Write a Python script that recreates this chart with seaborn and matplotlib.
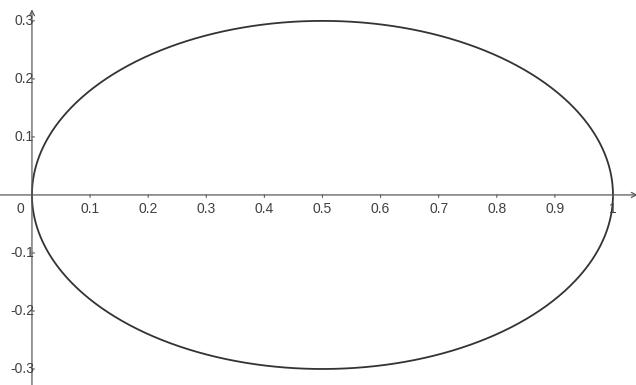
import numpy as np
import pandas as pd
import matplotlib
matplotlib.use("Agg")
import matplotlib.pyplot as plt
import seaborn as sns

# Ellipse parameters: centre and semi-axes
center_x = 0.5
center_y = 0.0
semi_axis_x = 0.5
semi_axis_y = 0.3

# Axis tick values and their labels
x_ticks = [0.1, 0.2, 0.3, 0.4, 0.5, 0.6, 0.7, 0.8, 0.9, 1.0]
x_tick_labels = ["0.1", "0.2", "0.3", "0.4", "0.5", "0.6", "0.7", "0.8", "0.9", "1"]
y_ticks = [0.3, 0.2, 0.1, -0.1, -0.2, -0.3]
y_tick_labels = ["0.3", "0.2", "0.1", "-0.1", "-0.2", "-0.3"]

sns.set_style("white")
plt.rcParams["font.family"] = ["Liberation Sans", "DejaVu Sans"]

t = np.linspace(0, 2 * np.pi, 721)
curve = pd.DataFrame({
    "x": center_x + semi_axis_x * np.cos(t),
    "y": center_y + semi_axis_y * np.sin(t),
})

fig = plt.figure(figsize=(6.36, 3.85), dpi=100)
ax = fig.add_axes([0, 0, 1, 1])
ax.set_xlim(-0.055, 1.0396)
ax.set_ylim(-0.3276, 0.336)
ax.set_axis_off()

axis_color = "#5a5a5a"
text_color = "#404040"

# Coordinate axes with open arrow heads
ax.annotate("", xy=(1.0425, 0), xytext=(-0.06, 0), annotation_clip=False,
            arrowprops=dict(arrowstyle="->", color=axis_color, lw=0.9,
                            shrinkA=0, shrinkB=0, mutation_scale=9))
ax.annotate("", xy=(0, 0.320), xytext=(0, -0.34), annotation_clip=False,
            arrowprops=dict(arrowstyle="->", color=axis_color, lw=0.9,
                            shrinkA=0, shrinkB=0, mutation_scale=9))

# Small tick marks
for xv in x_ticks:
    ax.annotate("", xy=(xv, 0), xycoords="data",
                xytext=(0, -2.5), textcoords="offset pixels",
                arrowprops=dict(arrowstyle="-", color=axis_color, lw=0.8,
                                shrinkA=0, shrinkB=0))
for yv in y_ticks:
    ax.annotate("", xy=(0, yv), xycoords="data",
                xytext=(2.5, 0), textcoords="offset pixels",
                arrowprops=dict(arrowstyle="-", color=axis_color, lw=0.8,
                                shrinkA=0, shrinkB=0))

# The ellipse
sns.lineplot(data=curve, x="x", y="y", sort=False, estimator=None,
             color="#333333", linewidth=1.3, ax=ax)

fs = 10
for xv, lab in zip(x_ticks, x_tick_labels):
    ax.annotate(lab, xy=(xv, 0), xytext=(0, -7), textcoords="offset pixels",
                ha="center", va="top", fontsize=fs, color=text_color)
ax.annotate("0", xy=(0, 0), xytext=(-12, -7), textcoords="offset pixels",
            ha="center", va="top", fontsize=fs, color=text_color)
for yv, lab in zip(y_ticks, y_tick_labels):
    ax.annotate(lab, xy=(0, yv), xytext=(2, 0), textcoords="offset pixels",
                ha="right", va="center", fontsize=fs, color=text_color)

fig.savefig("out.png", dpi=100)
